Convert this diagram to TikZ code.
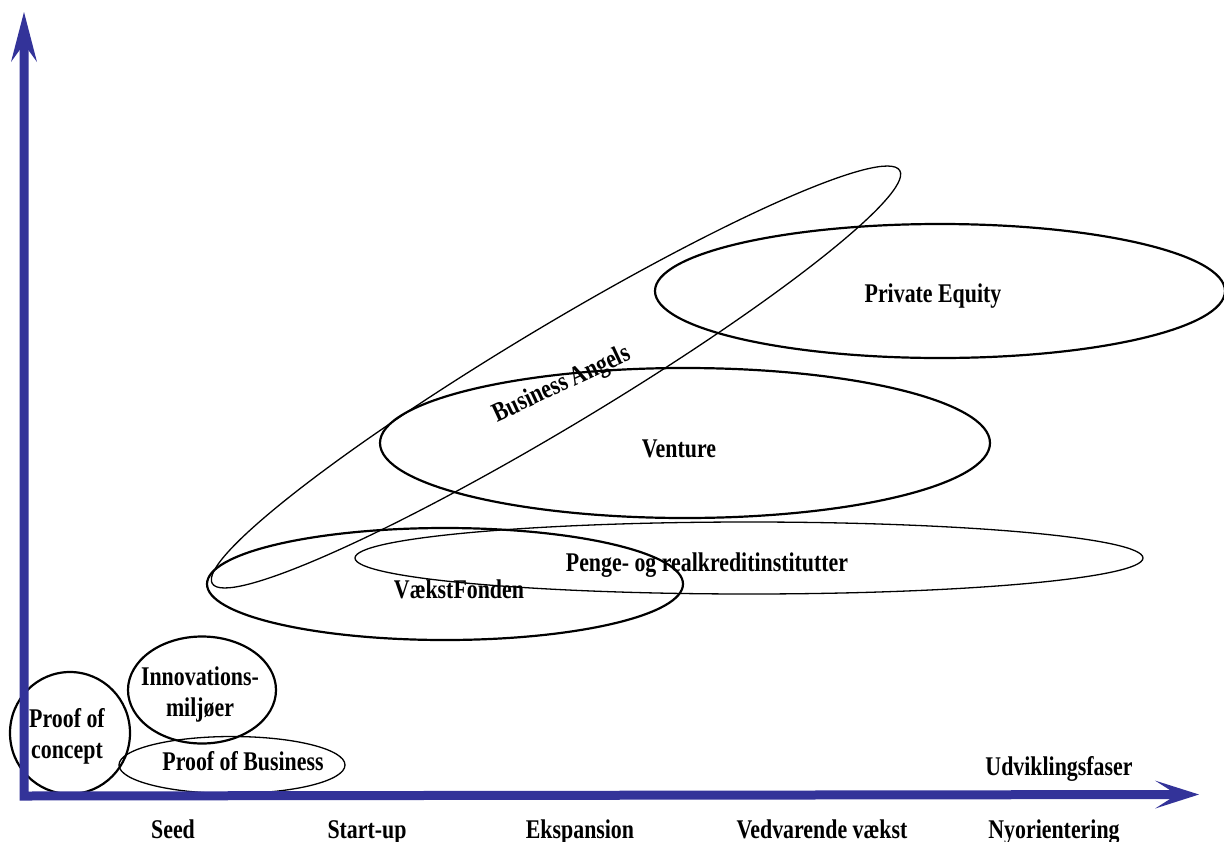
\documentclass[tikz,border=0pt]{standalone}
\usepackage{fontspec}
\newfontfamily\figfont{Liberation Serif}[FakeStretch=0.81]
\usetikzlibrary{shapes.geometric,arrows.meta}
\definecolor{axisblue}{RGB}{51,51,153}

\begin{document}
\begin{tikzpicture}[x=1pt, y=-1pt,
  every node/.append style={font=\figfont\bfseries\fontsize{27}{31}\selectfont},
  fund/.style={draw, ellipse, inner sep=0pt, line width=2.2pt},
  fundthin/.style={fund, line width=1.3pt},
  lbl/.style={anchor=base, inner sep=0pt},
  twoline/.style={align=center, inner sep=0pt},
  axis/.style={draw=axisblue, line width=9pt},
]
\useasboundingbox (0,0) rectangle (1224,841);
\node[fund, minimum width=120pt, minimum height=122pt] (pcon) at (70,733) {};
\node[fund, minimum width=148pt, minimum height=107pt] (innov) at (202,690) {};
\node[fundthin, minimum width=226pt, minimum height=57pt] (pbus) at (232,765) {};
\node[fundthin, minimum width=802pt, minimum height=100pt, rotate=31] (angels) at (556,377) {};
\node[fund, minimum width=570pt, minimum height=134pt] (pe) at (940,291) {};
\node[fund, minimum width=610pt, minimum height=150pt] (venture) at (685,443) {};
\node[fundthin, minimum width=788pt, minimum height=72pt] (penge) at (749,558) {};
\node[fund, minimum width=476pt, minimum height=112pt] (vf) at (445,584) {};
\node[lbl] (pe-txt) at (933,302) {Private Equity};
\node[lbl] (venture-txt) at (679,457) {Venture};
\node[inner sep=0pt, rotate=25] (angels-txt) at (562,385) {Business Angels};
\node[lbl] (penge-txt) at (707,571) {Penge- og realkreditinstitutter};
\node[lbl] (vf-txt) at (459,598) {VækstFonden};
\node[twoline] (innov-txt) at (200,694) {Innovations-\\miljøer};
\node[twoline] (pcon-txt) at (67,736) {Proof of\\concept};
\node[lbl] (pbus-txt) at (243,770) {Proof of Business};
\coordinate (ytip) at (24,12);
\coordinate (origin) at (24,796);
\coordinate (xtip) at (1199,794.5);
\draw[axis, {Stealth[length=50pt, width=26pt, inset=18pt, line width=0pt]}-{Stealth[length=44pt, width=28pt, inset=22pt, line width=0pt]}]
  (ytip) -- (origin) -- (xtip);
\node[lbl] (xlabel) at (1059,775) {Udviklingsfaser};
\node[lbl] (seed) at (173,838) {Seed};
\node[lbl] (startup) at (367,838) {Start-up};
\node[lbl] (ekspansion) at (580,838) {Ekspansion};
\node[lbl] (vedvarende) at (822,838) {Vedvarende vækst};
\node[lbl] (nyorientering) at (1054,838) {Nyorientering};
\end{tikzpicture}
\end{document}
